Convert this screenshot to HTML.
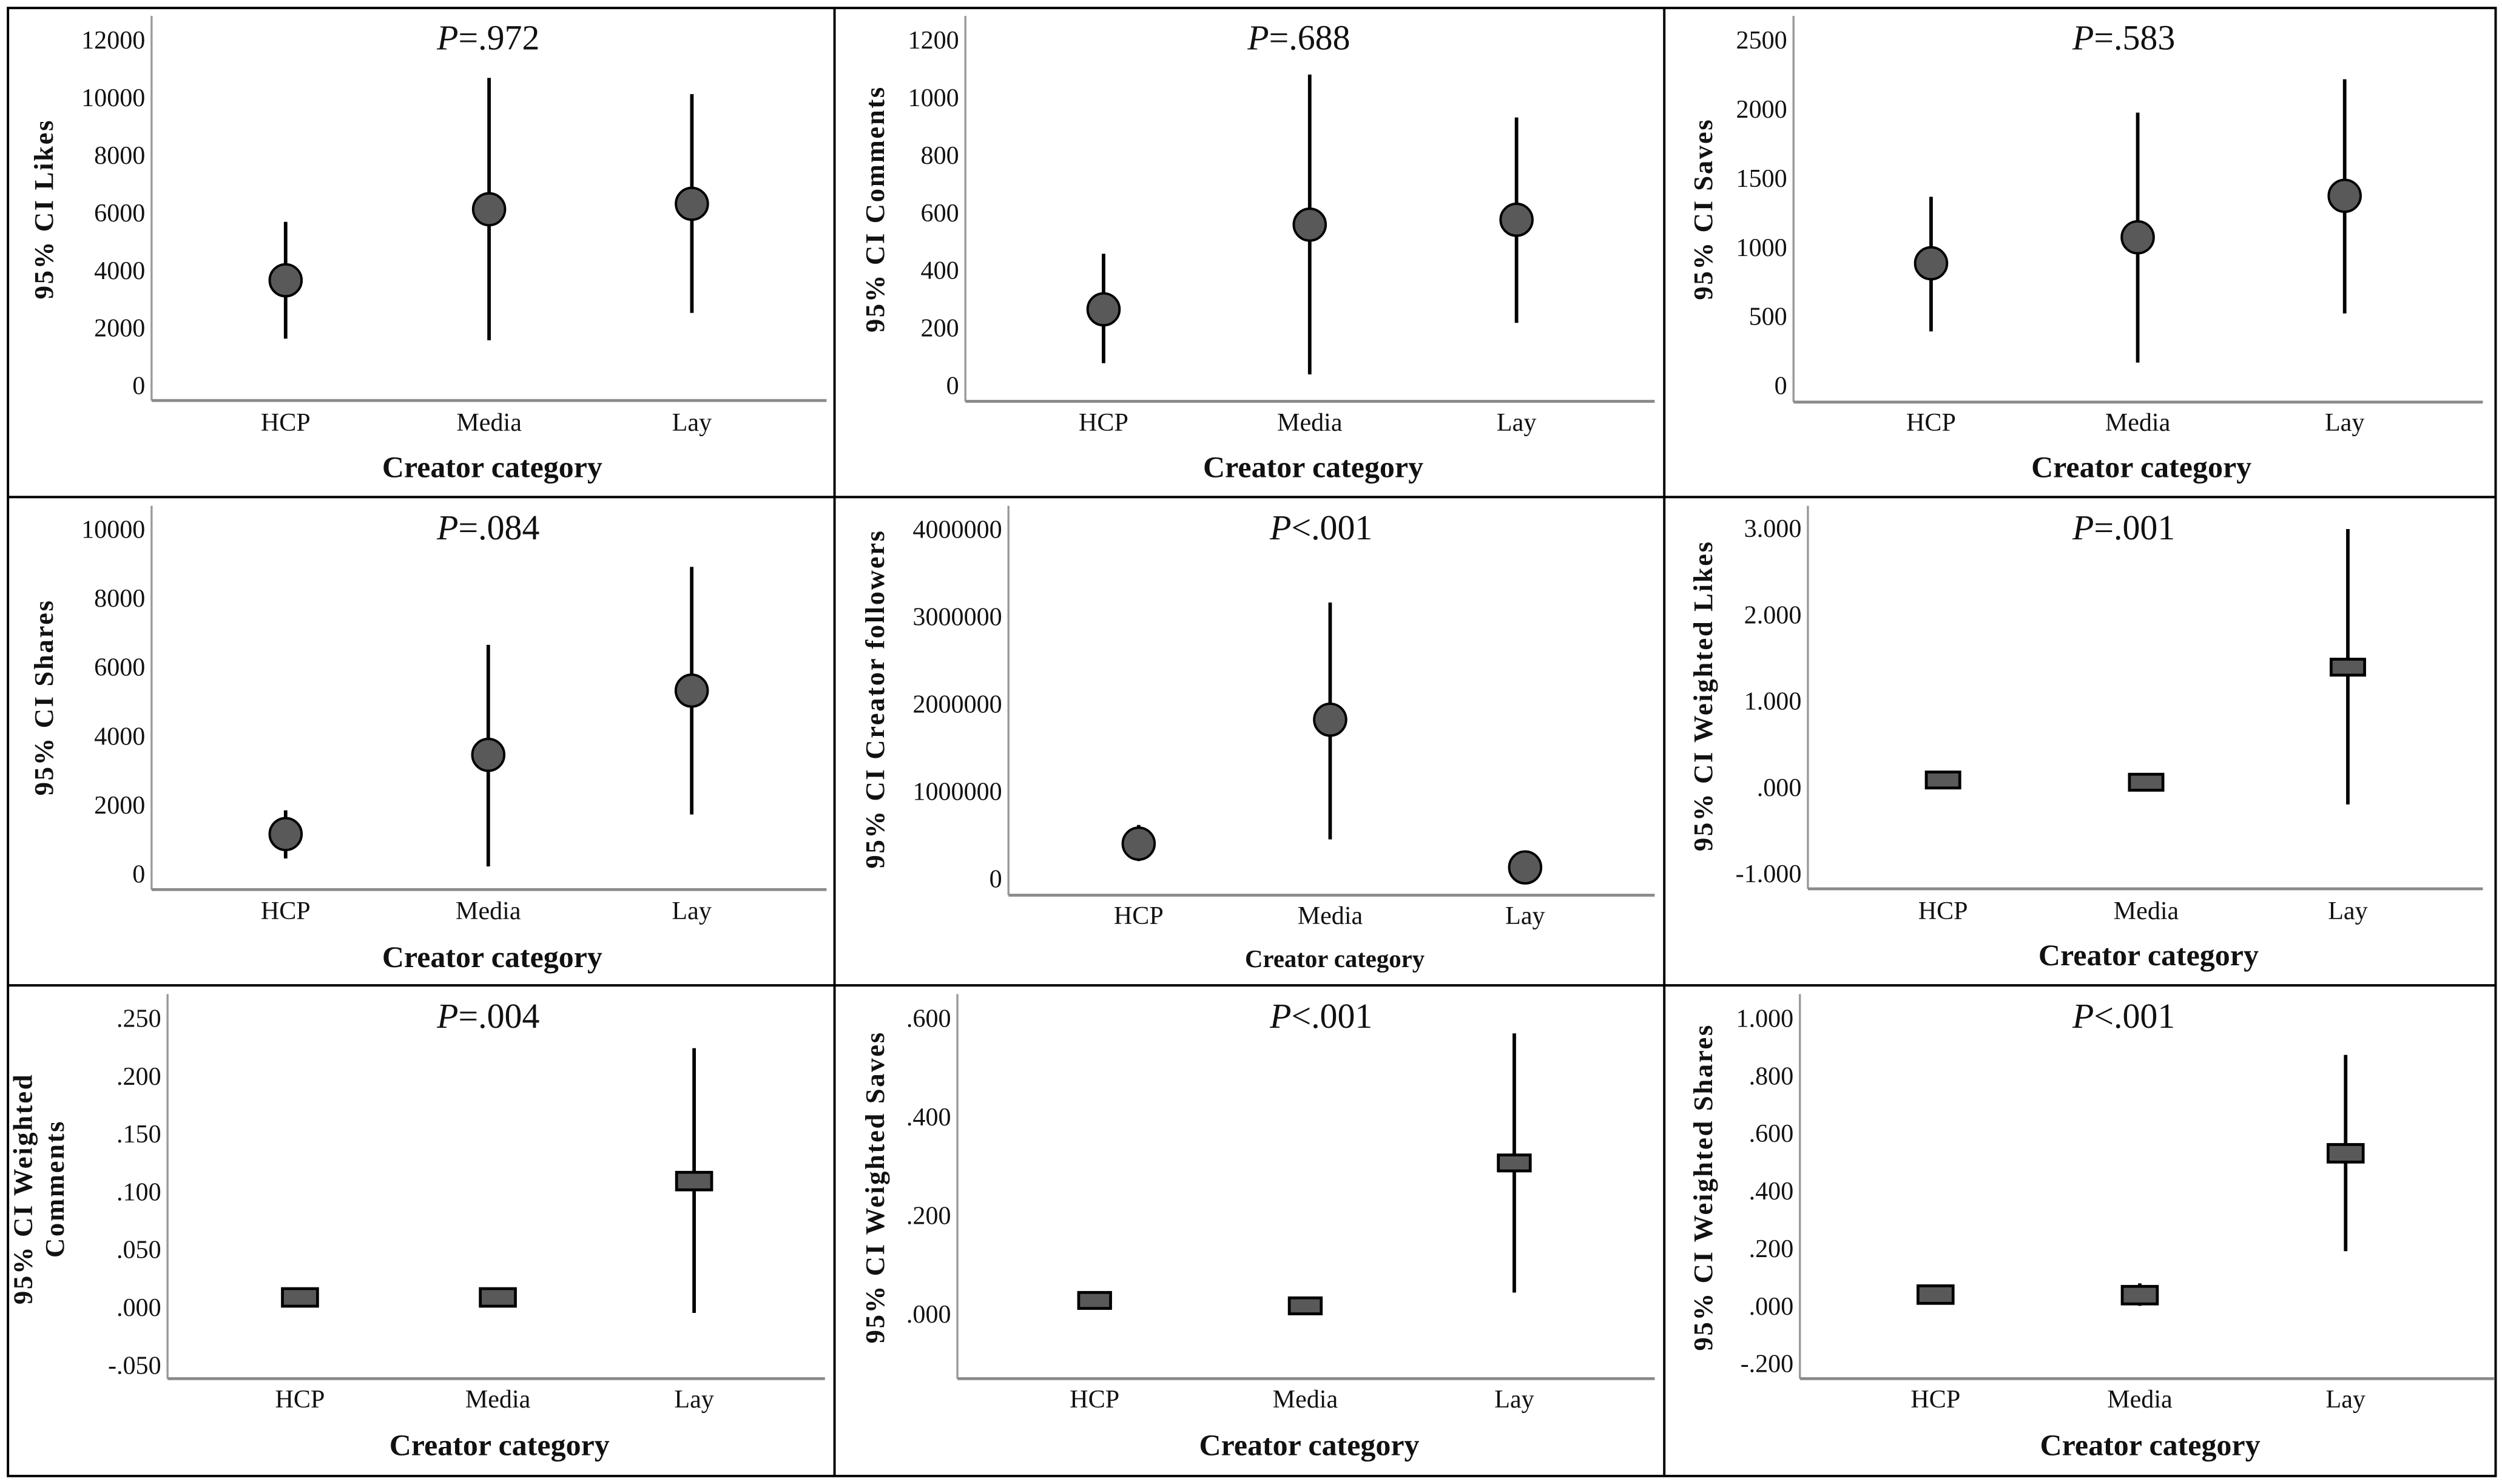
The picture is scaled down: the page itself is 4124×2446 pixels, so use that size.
<!DOCTYPE html>
<html><head><meta charset="utf-8"><title>95% CI by creator category</title>
<style>
html,body{margin:0;padding:0;background:#fff;}
svg{display:block;}
text{font-family:"Liberation Serif",serif;fill:#111;}
.tick{font-size:16px;}
.cat{font-size:16px;}
.ptitle{font-size:22px;}
.xt{font-size:19px;font-weight:bold;}
.yt{font-size:17px;font-weight:bold;letter-spacing:1px;}
</style></head>
<body>
<svg id="fig" width="4124" height="2446" viewBox="0 0 1568 930" preserveAspectRatio="none" xmlns="http://www.w3.org/2000/svg">
<rect x="0" y="0" width="1568" height="930" fill="#fff"/>
<g id="frame" stroke="#000" stroke-width="1.5" fill="none">
<rect x="5" y="5" width="1559" height="920"/>
<line x1="5" y1="311.5" x2="1564" y2="311.5"/>
<line x1="5" y1="617.5" x2="1564" y2="617.5"/>
<line x1="523" y1="5" x2="523" y2="925"/>
<line x1="1043" y1="5" x2="1043" y2="925"/>
</g>
</svg>
<script>
const categories = ["HCP","Media","Lay"];
// Panel 1: Likes
const likesMean = [3650, 6117, 6306];
const likesLow = [1620, 1567, 2517];
const likesHigh = [5680, 10680, 10117];
const likesTicks = [0,2000,4000,6000,8000,10000,12000];
const likesTickLabels = ["0","2000","4000","6000","8000","10000","12000"];
// Panel 2: Comments
const commentsMean = [264, 558, 575];
const commentsLow = [77, 38, 217];
const commentsHigh = [457, 1079, 930];
const commentsTicks = [0,200,400,600,800,1000,1200];
const commentsTickLabels = ["0","200","400","600","800","1000","1200"];
// Panel 3: Saves
const savesMean = [883, 1071, 1371];
const savesLow = [390, 165, 520];
const savesHigh = [1364, 1973, 2214];
const savesTicks = [0,500,1000,1500,2000,2500];
const savesTickLabels = ["0","500","1000","1500","2000","2500"];
// Panel 4: Shares
const sharesMean = [1152, 3450, 5312];
const sharesLow = [444, 213, 1720];
const sharesHigh = [1840, 6640, 8900];
const sharesTicks = [0,2000,4000,6000,8000,10000];
const sharesTickLabels = ["0","2000","4000","6000","8000","10000"];
// Panel 5: Creator followers
const followersMean = [398000, 1817000, 126000];
const followersLow = [199000, 447000, 60000];
const followersHigh = [612000, 3158000, 190000];
const followersTicks = [0,1000000,2000000,3000000,4000000];
const followersTickLabels = ["0","1000000","2000000","3000000","4000000"];
// Panel 6: Weighted likes
const wLikesMean = [0.083, 0.057, 1.39];
const wLikesLow = [0.04, 0.02, -0.20];
const wLikesHigh = [0.12, 0.09, 2.99];
const wLikesTicks = [-1,0,1,2,3];
const wLikesTickLabels = ["-1.000",".000","1.000","2.000","3.000"];
// Panel 7: Weighted comments
const wCommentsMean = [0.0084, 0.0084, 0.109];
const wCommentsLow = [0.004, 0.004, -0.005];
const wCommentsHigh = [0.013, 0.013, 0.224];
const wCommentsTicks = [-0.05,0,0.05,0.1,0.15,0.2,0.25];
const wCommentsTickLabels = ["-.050",".000",".050",".100",".150",".200",".250"];
// Panel 8: Weighted saves
const wSavesMean = [0.027, 0.016, 0.306];
const wSavesLow = [0.012, 0.005, 0.043];
const wSavesHigh = [0.042, 0.027, 0.569];
const wSavesTicks = [0,0.2,0.4,0.6];
const wSavesTickLabels = [".000",".200",".400",".600"];
// Panel 9: Weighted shares
const wSharesMean = [0.039, 0.037, 0.53];
const wSharesLow = [0.01, 0.0, 0.19];
const wSharesHigh = [0.07, 0.078, 0.872];
const wSharesTicks = [-0.2,0,0.2,0.4,0.6,0.8,1.0];
const wSharesTickLabels = ["-.200",".000",".200",".400",".600",".800","1.000"];
const pLabels = ["=.972","=.688","=.583","=.084","<.001","=.001","=.004","<.001","<.001"];

const NS = "http://www.w3.org/2000/svg";
const svg = document.getElementById("fig");
function mk(tag, attrs, parent){
  const e = document.createElementNS(NS, tag);
  for (const k in attrs) e.setAttribute(k, attrs[k]);
  (parent||svg).appendChild(e);
  return e;
}

// layout (pixel geometry only)
const panels = [
 {key:"likes", mean:likesMean, low:likesLow, high:likesHigh, ticks:likesTicks, tl:likesTickLabels,
  ax:95, axR:518, axTop:10, axY:251, vMin:0, vMax:12000, yMin:241.5, yMax:25, cx:[179,306.5,433.6],
  catY:270, xtY:299, xtSize:19, ylab:["95% CI Likes"], ylx:27, yly:131, marker:"circle", px:306, py:31},
 {key:"comments", mean:commentsMean, low:commentsLow, high:commentsHigh, ticks:commentsTicks, tl:commentsTickLabels,
  ax:605, axR:1037, axTop:10, axY:251.5, vMin:0, vMax:1200, yMin:241.5, yMax:24.9, cx:[691.6,820.8,950.4],
  catY:270, xtY:299, xtSize:19, ylab:["95% CI Comments"], ylx:548, yly:131, marker:"circle", px:814, py:31},
 {key:"saves", mean:savesMean, low:savesLow, high:savesHigh, ticks:savesTicks, tl:savesTickLabels,
  ax:1124, axR:1556, axTop:10, axY:252, vMin:0, vMax:2500, yMin:241.5, yMax:24.9, cx:[1210.2,1339.7,1469.4],
  catY:270, xtY:299, xtSize:19, ylab:["95% CI Saves"], ylx:1067, yly:131, marker:"circle", px:1331, py:31},
 {key:"shares", mean:sharesMean, low:sharesLow, high:sharesHigh, ticks:sharesTicks, tl:sharesTickLabels,
  ax:95, axR:518, axTop:317, axY:557.5, vMin:0, vMax:10000, yMin:547.6, yMax:331.5, cx:[179,306,433.5],
  catY:576, xtY:606, xtSize:19, ylab:["95% CI Shares"], ylx:27, yly:437, marker:"circle", px:306, py:338},
 {key:"followers", mean:followersMean, low:followersLow, high:followersHigh, ticks:followersTicks, tl:followersTickLabels,
  ax:632, axR:1037, axTop:317, axY:561, vMin:0, vMax:4000000, yMin:550.5, yMax:331.5, cx:[713.6,833.6,955.8],
  catY:579, xtY:606, xtSize:15.5, ylab:["95% CI Creator followers"], ylx:548, yly:438, marker:"circle", px:828, py:338},
 {key:"weighted-likes", mean:wLikesMean, low:wLikesLow, high:wLikesHigh, ticks:wLikesTicks, tl:wLikesTickLabels,
  ax:1133, axR:1556, axTop:317, axY:557, vMin:-1, vMax:3, yMin:547.4, yMax:331, cx:[1217.7,1345,1471.4],
  catY:576, xtY:605, xtSize:19, ylab:["95% CI Weighted Likes"], ylx:1067, yly:436, marker:"square", sw:21, sh:10, px:1331, py:338},
 {key:"weighted-comments", mean:wCommentsMean, low:wCommentsLow, high:wCommentsHigh, ticks:wCommentsTicks, tl:wCommentsTickLabels,
  ax:105, axR:517, axTop:623, axY:864, vMin:-0.05, vMax:0.25, yMin:855.4, yMax:638, cx:[188,312,435],
  catY:882, xtY:912, xtSize:19, ylab:["95% CI Weighted","Comments"], ylx:22, yly:745, marker:"square", sw:22, sh:11, px:306, py:644},
 {key:"weighted-saves", mean:wSavesMean, low:wSavesLow, high:wSavesHigh, ticks:wSavesTicks, tl:wSavesTickLabels,
  ax:600, axR:1037, axTop:623, axY:864, vMin:0, vMax:0.6, yMin:823.3, yMax:638, cx:[686,818,949],
  catY:882, xtY:912, xtSize:19, ylab:["95% CI Weighted Saves"], ylx:548, yly:744, marker:"square", sw:20, sh:10, px:828, py:644},
 {key:"weighted-shares", mean:wSharesMean, low:wSharesLow, high:wSharesHigh, ticks:wSharesTicks, tl:wSharesTickLabels,
  ax:1128, axR:1563, axTop:623, axY:864, vMin:-0.2, vMax:1.0, yMin:854.4, yMax:638, cx:[1213,1341,1470],
  catY:882, xtY:912, xtSize:19, ylab:["95% CI Weighted Shares"], ylx:1067, yly:744, marker:"square", sw:22, sh:11, px:1331, py:644}
];

panels.forEach((p, pi) => {
  const g = mk("g", {});
  
  
  const yScale = v => p.yMin + (v - p.vMin) / (p.vMax - p.vMin) * (p.yMax - p.yMin);

  const yAxis = mk("line", {x1:p.ax, y1:p.axTop, x2:p.ax, y2:p.axY, stroke:"#9a9a9a", "stroke-width":1.3}, g);
  
  
  const xAxis = mk("line", {x1:p.ax, y1:p.axY, x2:p.axR, y2:p.axY, stroke:"#8a8a8a", "stroke-width":1.8}, g);
  
  

  p.ticks.forEach((t, i) => {
    const tx = mk("text", {x:p.ax - 4, y:yScale(t) + 5.5, "text-anchor":"end", class:"tick"}, g);
    
    
    tx.textContent = p.tl[i];
  });

  categories.forEach((c, i) => {
    const tx = mk("text", {x:p.cx[i], y:p.catY, "text-anchor":"middle", class:"cat"}, g);
    
    
    tx.textContent = c;
  });

  const xt = mk("text", {x:(p.ax + p.axR) / 2 + 2, y:p.xtY, "text-anchor":"middle", class:"xt", "font-size":p.xtSize, style:"font-size:" + p.xtSize + "px"}, g);
  
  
  xt.textContent = "Creator category";

  const yt = mk("text", {transform:"translate(" + p.ylx + "," + p.yly + ") rotate(-90)", "text-anchor":"middle", class:"yt"}, g);
  
  
  if (p.ylab.length === 1) {
    yt.setAttribute("y", 6);
    yt.textContent = p.ylab[0];
  } else {
    const t1 = mk("tspan", {x:0, y:-2}, yt);
    t1.textContent = p.ylab[0];
    const t2 = mk("tspan", {x:0, y:18}, yt);
    t2.textContent = p.ylab[1];
  }

  const pt = mk("text", {x:p.px, y:p.py, "text-anchor":"middle", class:"ptitle"}, g);
  
  
  const ps = mk("tspan", {"font-style":"italic"}, pt);
  ps.textContent = "P";
  const pv = mk("tspan", {}, pt);
  pv.textContent = pLabels[pi];

  categories.forEach((c, i) => {
    const eb = mk("line", {x1:p.cx[i], x2:p.cx[i], y1:yScale(p.low[i]), y2:yScale(p.high[i]), stroke:"#000", "stroke-width":2.2}, g);
    
    
    let m;
    if (p.marker === "circle") {
      m = mk("circle", {cx:p.cx[i], cy:yScale(p.mean[i]), r:10, fill:"#595959", stroke:"#000", "stroke-width":1.5}, g);
    } else {
      m = mk("rect", {x:p.cx[i] - p.sw/2, y:yScale(p.mean[i]) - p.sh/2, width:p.sw, height:p.sh, fill:"#595959", stroke:"#000", "stroke-width":1.8}, g);
    }
    
    
  });
});
</script>
</body></html>
